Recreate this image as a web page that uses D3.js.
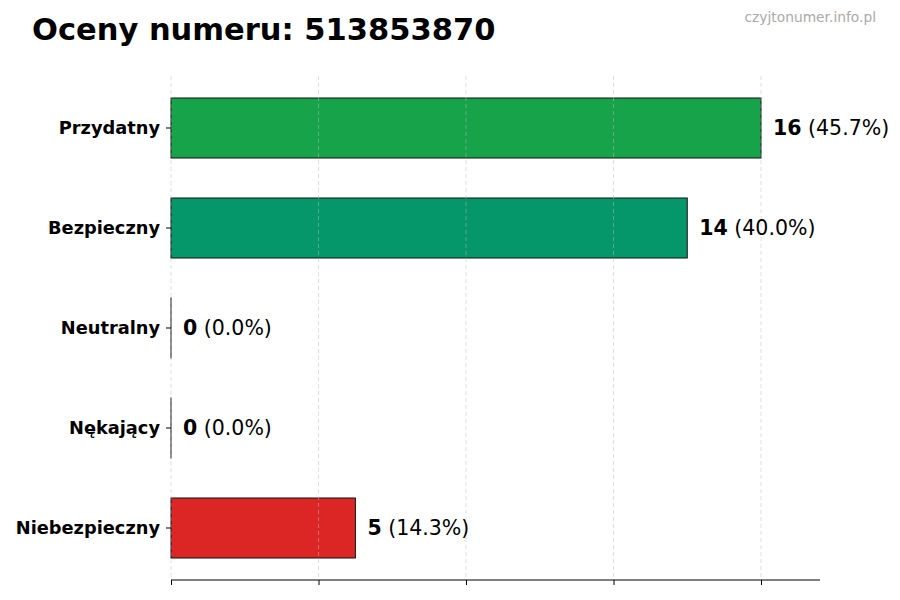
<!DOCTYPE html>
<html>
<head>
<meta charset="utf-8">
<script src="https://cdn.jsdelivr.net/npm/d3@7"></script>
<style>
  body { margin: 0; background: #fff; }
  svg { font-family: "DejaVu Sans", sans-serif; }
</style>
</head>
<body>
<div id="chart"></div>
<script>
// chart data
const categories = ["Przydatny", "Bezpieczny", "Neutralny", "Nękający", "Niebezpieczny"];
const counts = [16, 14, 0, 0, 5];
const barColors = ["#16a34a", "#059669", "#9ca3af", "#f59e0b", "#dc2626"];
const gridTicks = [0, 4, 8, 12, 16];
const titleText = "Oceny numeru: 513853870";
const watermark = "czyjtonumer.info.pl";

const width = 900, height = 600;
const margin = {top: 76, right: 80, bottom: 20, left: 171};
const plotBottom = 580;

const svg = d3.select("#chart")
  .append("svg")
  .attr("width", width)
  .attr("height", height);

const total = d3.sum(counts);
const data = categories.map((c, i) => ({cat: c, n: counts[i], color: barColors[i]}));

// x scale, a bit of headroom past the max
const xScale = d3.scaleLinear()
  .domain([0, d3.max(counts) * 1.1])
  .range([margin.left, width - margin.right]);

const yScale = d3.scaleBand()
  .domain(categories)
  .range([78, 578])
  .paddingInner(0.4)
  .paddingOuter(0.2);

// title + watermark
svg.append("text")
  .attr("x", 32).attr("y", 40)
  .attr("font-size", "30.5px")
  .attr("font-weight", "bold")
  .attr("fill", "#000")
  .text(titleText);

svg.append("text")
  .attr("x", 876).attr("y", 22)
  .attr("text-anchor", "end")
  .attr("font-size", "13.8px")
  .attr("fill", "#aaaaaa")
  .text(watermark);

// bars
svg.selectAll(".bar")
  .data(data)
  .enter()
  .append("rect")
    .attr("class", "bar")
    .attr("x", xScale(0))
    .attr("y", d => yScale(d.cat))
    .attr("width", d => Math.max(xScale(d.n) - xScale(0), 0.01))
    .attr("height", yScale.bandwidth())
    .attr("fill", d => d.color)
    .attr("stroke", "#111")
    .attr("stroke-width", 1);

// dashed grid on top
svg.selectAll(".grid")
  .data(gridTicks)
  .enter()
  .append("line")
    .attr("class", "grid")
    .attr("x1", d => xScale(d)).attr("x2", d => xScale(d))
    .attr("y1", margin.top).attr("y2", plotBottom)
    .attr("stroke", "#bbbbbb")
    .attr("stroke-opacity", 0.6)
    .attr("stroke-width", 0.8)
    .attr("stroke-dasharray", "4,3");

// x axis, no labels
const xAxis = svg.append("g")
  .attr("transform", `translate(0,${plotBottom})`)
  .call(d3.axisBottom(xScale).tickValues(gridTicks).tickSize(5).tickFormat(""));
xAxis.select(".domain").attr("stroke", "#000").attr("stroke-width", 1.2)
  .attr("d", `M${xScale.range()[0]},0H${xScale.range()[1]}`);
xAxis.selectAll(".tick line").attr("stroke", "#000").attr("stroke-width", 1);

// y axis: labels + small ticks, no spine
const yAxis = svg.append("g")
  .attr("transform", `translate(${margin.left},0)`)
  .call(d3.axisLeft(yScale).tickSize(5).tickPadding(6));
yAxis.select(".domain").remove();
yAxis.selectAll(".tick line").attr("stroke", "#000");
yAxis.selectAll(".tick text")
  .attr("font-size", "17.8px")
  .attr("font-weight", "bold")
  .attr("fill", "#000")
  .attr("font-family", "DejaVu Sans, sans-serif");

// value labels
const labels = svg.selectAll(".val")
  .data(data)
  .enter()
  .append("text")
    .attr("class", "val")
    .attr("x", d => xScale(d.n) + 12)
    .attr("y", d => yScale(d.cat) + yScale.bandwidth() / 2)
    .attr("dy", "0.35em")
    .attr("font-size", "20.5px")
    .attr("fill", "#000");
labels.append("tspan").attr("font-weight", "bold").text(d => d.n);
labels.append("tspan").text(d => " (" + (d.n / total * 100).toFixed(1) + "%)");
</script>
</body>
</html>
